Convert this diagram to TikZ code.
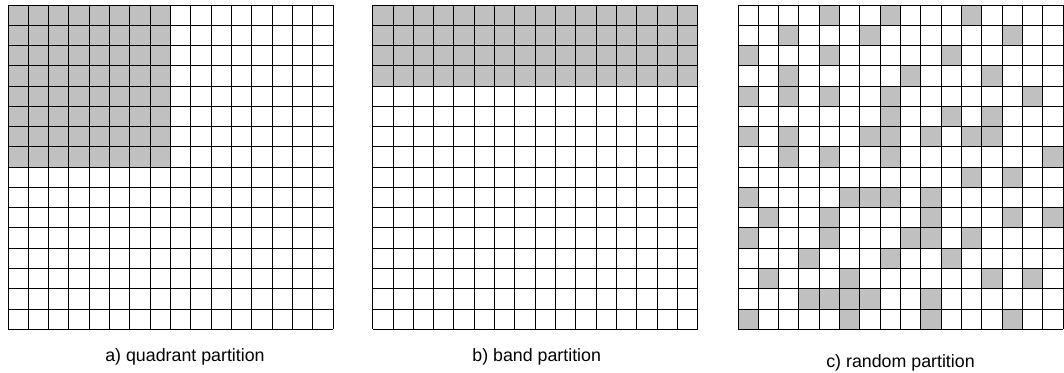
\documentclass[tikz,border=0pt]{standalone}
\usepackage{fontspec}
\setmainfont{Liberation Sans}
\definecolor{cellgray}{RGB}{192,192,192}
\begin{document}
\begin{tikzpicture}[x=1pt,y=-1pt,
  gridline/.style={black, line width=1pt},
  cellfill/.style={fill=cellgray},
  lbl/.style={font=\fontsize{17.8}{20}\selectfont, inner sep=0pt, anchor=base}]
\useasboundingbox (0,0) rectangle (1064,372);
\def\cw{20.3125}
\def\ch{20.27}
\def\yo{5}
% ---- a) quadrant
\def\xa{8}
\fill[cellfill] (\xa,\yo) rectangle ++(8*\cw,8*\ch);
% ---- b) band
\def\xb{372.7}
\fill[cellfill] (\xb,\yo) rectangle ++(16*\cw,4*\ch);
% ---- c) random
\def\xc{738}
\foreach \r/\cols in {0/{4,7,11},1/{2,6,13},2/{0,4,10},3/{2,8,12},4/{0,2,4,7,14},5/{7,10,12},6/{0,2,6,7,9,11,12},7/{2,4,7,15},8/{11,13},9/{0,5,6,7,9},10/{1,4,9,13,15},11/{0,4,8,9,11},12/{3,7,10},13/{1,5,12,14},14/{3,4,5,6,9},15/{0,5,9,13}}{
  \foreach \c in \cols {
    \fill[cellfill] (\xc+\c*\cw,\yo+\r*\ch) rectangle ++(\cw,\ch);
  }
}
% ---- grid lines
\foreach \gx in {\xa,\xb,\xc}{
  \foreach \i in {0,...,16}{
    \draw[gridline] (\gx+\i*\cw,\yo) -- (\gx+\i*\cw,\yo+16*\ch);
    \draw[gridline] (\gx,\yo+\i*\ch) -- (\gx+16*\cw,\yo+\i*\ch);
  }
}
% ---- labels
\node[lbl] (la) at (185,361.7) {a) quadrant partition};
\node[lbl] (lb) at (536.7,361.7) {b) band partition};
\node[lbl] (lc) at (900.5,367.3) {c) random partition};
\end{tikzpicture}
\end{document}
